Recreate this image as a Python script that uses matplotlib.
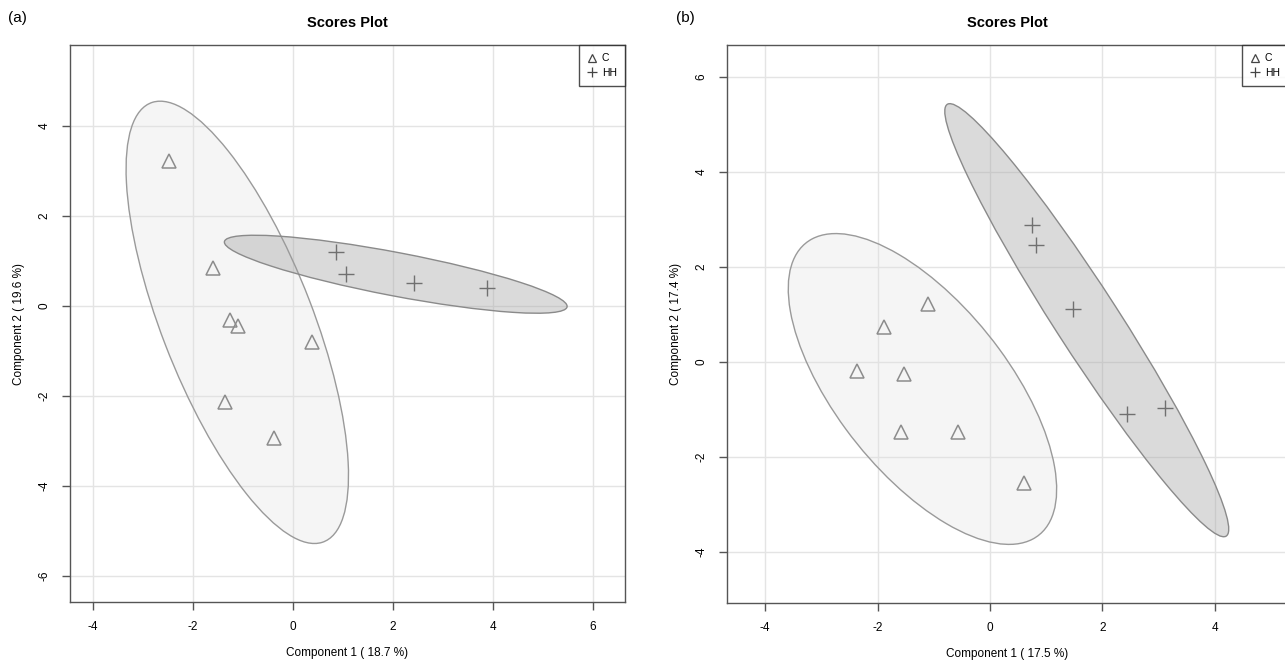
"""Scores plots (PLS-DA style) for two comparisons, C vs HH."""

import matplotlib

matplotlib.use("Agg")

import matplotlib.pyplot as plt
import numpy as np
from matplotlib.lines import Line2D
from matplotlib.patches import Ellipse

# panel (a)
a_c_x = [-2.48, -1.60, -1.26, -1.10, -1.36, 0.38, -0.38]
a_c_y = [3.22, 0.84, -0.31, -0.44, -2.13, -0.80, -2.93]
a_hh_x = [0.86, 1.06, 2.42, 3.88]
a_hh_y = [1.20, 0.71, 0.51, 0.40]
a_xlabel = "Component 1 ( 18.7 %)"
a_ylabel = "Component 2 ( 19.6 %)"
a_xticks = [-4, -2, 0, 2, 4, 6]
a_yticks = [-6, -4, -2, 0, 2, 4]

# panel (b)
b_c_x = [-1.88, -1.10, -2.36, -1.53, -1.58, -0.57, 0.60]
b_c_y = [0.74, 1.22, -0.19, -0.25, -1.47, -1.47, -2.55]
b_hh_x = [0.75, 0.82, 1.48, 2.44, 3.11]
b_hh_y = [2.88, 2.46, 1.12, -1.09, -0.97]
b_xlabel = "Component 1 ( 17.5 %)"
b_ylabel = "Component 2 ( 17.4 %)"
b_xticks = [-4, -2, 0, 2, 4]
b_yticks = [-4, -2, 0, 2, 4, 6]

LEVEL = 0.95

plt.rcParams["font.family"] = ["Liberation Sans", "DejaVu Sans"]
plt.rcParams["axes.unicode_minus"] = False


def conf_ellipse(x, y, level, **kw):
    pts = np.column_stack([x, y])
    centre = pts.mean(axis=0)
    cov = np.cov(pts, rowvar=False)
    vals, vecs = np.linalg.eigh(cov)
    order = vals.argsort()[::-1]
    vals, vecs = vals[order], vecs[:, order]
    scale = np.sqrt(-2 * np.log(1 - level))  # chi2 quantile, 2 df
    angle = np.degrees(np.arctan2(vecs[1, 0], vecs[0, 0]))
    return Ellipse(centre, 2 * scale * np.sqrt(vals[0]), 2 * scale * np.sqrt(vals[1]),
                   angle=angle, **kw)


def draw_panel(ax, c_x, c_y, hh_x, hh_y, xticks, yticks, xlim, ylim, xlabel, ylabel):
    ax.set_xlim(*xlim)
    ax.set_ylim(*ylim)
    ax.set_xticks(xticks)
    ax.set_yticks(yticks)
    ax.grid(True, color="#e4e4e4", linewidth=1.0, zorder=0)
    ax.set_axisbelow(True)

    ax.add_patch(conf_ellipse(c_x, c_y, LEVEL, facecolor="#e0e0e0", alpha=0.3,
                              edgecolor="none", zorder=1))
    ax.add_patch(conf_ellipse(c_x, c_y, LEVEL, facecolor="none",
                              edgecolor="#9a9a9a", linewidth=1.0, zorder=2))
    ax.add_patch(conf_ellipse(hh_x, hh_y, LEVEL, facecolor="#a0a0a0", alpha=0.38,
                              edgecolor="none", zorder=1))
    ax.add_patch(conf_ellipse(hh_x, hh_y, LEVEL, facecolor="none",
                              edgecolor="#8a8a8a", linewidth=1.0, zorder=2))

    ax.plot(c_x, c_y, linestyle="none", marker="^", markersize=9.5,
            markerfacecolor="none", markeredgecolor="#8c8c8c", markeredgewidth=1.1,
            zorder=3)
    ax.plot(hh_x, hh_y, linestyle="none", marker="+", markersize=12,
            markeredgecolor="#707070", markeredgewidth=1.0, zorder=3)

    for side in ax.spines.values():
        side.set_color("#555555")
        side.set_linewidth(1.0)
    ax.tick_params(direction="out", length=6, width=1, color="#555555",
                   labelsize=8.5, pad=8)
    for lab in ax.get_yticklabels():
        lab.set_rotation(90)
        lab.set_va("center")
    ax.set_xlabel(xlabel, fontsize=8.5, labelpad=10)
    ax.set_ylabel(ylabel, fontsize=8.5, labelpad=10)
    ax.set_title("Scores Plot", fontsize=10.5, fontweight="bold", pad=13)

    handles = [
        Line2D([], [], linestyle="none", marker="^", markersize=5.5,
               markerfacecolor="none", markeredgecolor="#444444", markeredgewidth=0.9),
        Line2D([], [], linestyle="none", marker="+", markersize=7,
               markeredgecolor="#444444", markeredgewidth=0.9),
    ]
    leg = ax.legend(handles, ["C", "HH"], loc="upper right", borderaxespad=0,
                    fontsize=7.5, frameon=True, fancybox=False, handlelength=0.9,
                    handletextpad=0.5, borderpad=0.8, labelspacing=0.45)
    leg.get_frame().set_edgecolor("#222222")
    leg.get_frame().set_linewidth(1.0)
    leg.set_zorder(5)


fig = plt.figure(figsize=(12.85, 6.68), dpi=100)
W, H = 1285, 668

ax_a = fig.add_axes([70 / W, 1 - 602 / H, 555 / W, 557 / H])
draw_panel(ax_a, a_c_x, a_c_y, a_hh_x, a_hh_y, a_xticks, a_yticks,
           (-4.46, 6.64), (-6.58, 5.80), a_xlabel, a_ylabel)

ax_b = fig.add_axes([727 / W, 1 - 603 / H, 561 / W, 558 / H])
draw_panel(ax_b, b_c_x, b_c_y, b_hh_x, b_hh_y, b_xticks, b_yticks,
           (-4.68, 5.30), (-5.07, 6.67), b_xlabel, b_ylabel)

fig.text(8 / W, 1 - 18 / H, "(a)", fontsize=11, va="center", ha="left")
fig.text(676 / W, 1 - 18 / H, "(b)", fontsize=11, va="center", ha="left")

fig.savefig("out.png", dpi=100)
plt.close(fig)
